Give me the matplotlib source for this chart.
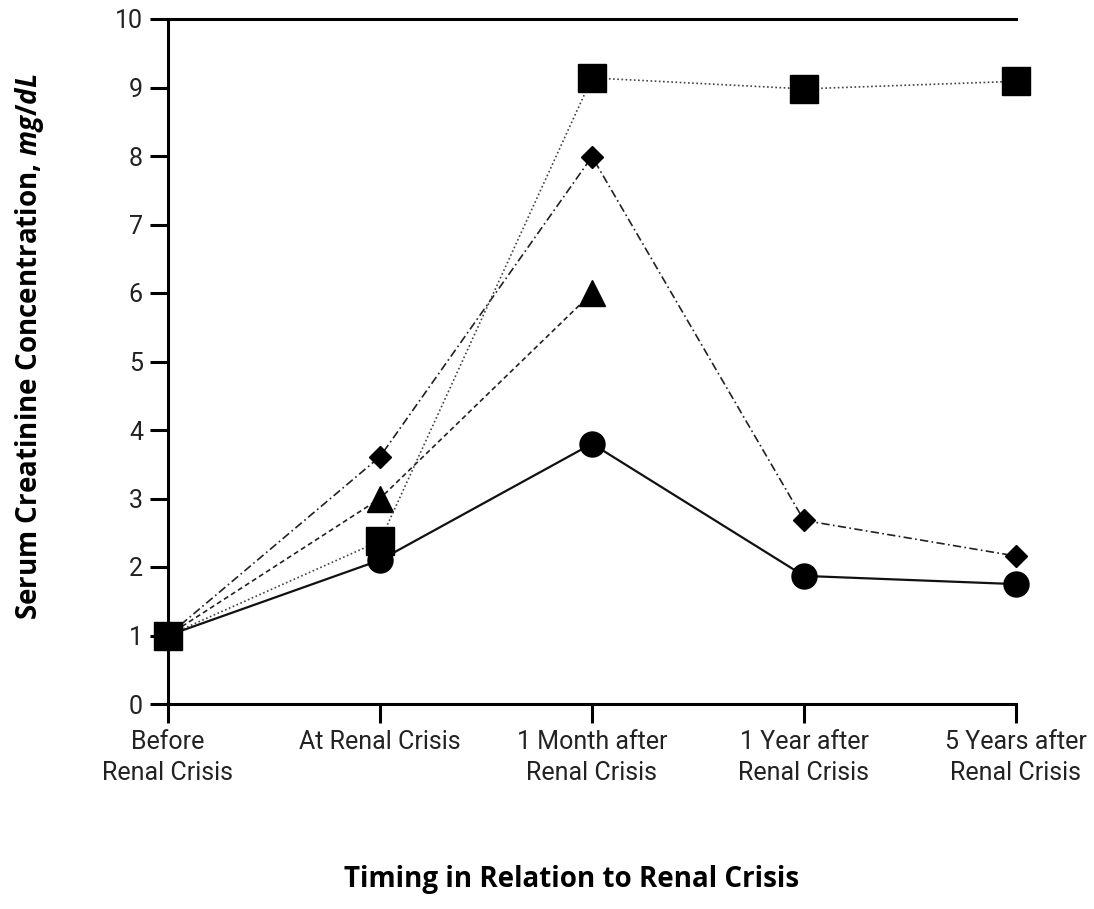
import numpy as np
import matplotlib
matplotlib.use('Agg')
import matplotlib.pyplot as plt
from matplotlib import font_manager

# fonts: a narrow one for ticks if we have it
names = {f.name for f in font_manager.fontManager.ttflist}
tickfont = 'Liberation Sans Narrow' if 'Liberation Sans Narrow' in names else 'Roboto'
plt.rcParams['mathtext.fontset'] = 'custom'
plt.rcParams['mathtext.it'] = 'Open Sans:bold:italic'
plt.rcParams['mathtext.rm'] = 'Open Sans:bold'

# data
timepoints = ['Before\nRenal Crisis', 'At Renal Crisis', '1 Month after\nRenal Crisis',
              '1 Year after\nRenal Crisis', '5 Years after\nRenal Crisis']
x = np.arange(len(timepoints))

circle_vals = [1.0, 2.1, 3.8, 1.87, 1.75]
square_vals = [1.0, 2.38, 9.14, 8.98, 9.09]
diamond_vals = [1.0, 3.61, 7.99, 2.68, 2.16]
triangle_vals = [1.0, 3.0, 6.0]

fig = plt.figure(figsize=(10.94, 9.09), dpi=100)
ax = fig.add_axes([168/1094, 1-704/909, (1016-168)/1094, (704-19)/909])

lc = '#222222'
ax.plot(x[:3], triangle_vals, color=lc, lw=1.2, ls=(0, (3, 2)),
        marker='^', ms=19, mfc='black', mec='black', clip_on=False, zorder=3)
ax.plot(x, diamond_vals, color=lc, lw=1.2, ls=(0, (5, 2, 1, 2)),
        marker='D', ms=11, mfc='black', mec='black', clip_on=False, zorder=3)
ax.plot(x, circle_vals, color='#111111', lw=1.6, ls='-',
        marker='o', ms=18, mfc='black', mec='black', clip_on=False, zorder=3)
ax.plot(x, square_vals, color='#444444', lw=1.2, ls=(0, (1, 1.5)),
        marker='s', ms=20, mfc='black', mec='black', clip_on=False, zorder=4)

ax.set_xlim(0, 4)
ax.set_ylim(0, 10)
ax.set_xticks(x)
ax.set_xticklabels(timepoints, family=tickfont, fontsize=18, linespacing=1.35, color='#222222')
ax.set_yticks(range(0, 11))
ax.set_yticklabels([str(i) for i in range(0, 11)], family=tickfont, fontsize=18, color='#222222')

for s in ['left', 'bottom', 'top']:
    ax.spines[s].set_linewidth(2.2)
ax.spines['right'].set_visible(False)
ax.tick_params(axis='y', direction='out', length=13, width=2.2, pad=5)
ax.tick_params(axis='x', direction='out', length=14, width=2.2, pad=5)

fig.text(30/1094, 1-347/909, r'Serum Creatinine Concentration, $mg/dL$',
         rotation=90, ha='center', va='center', fontsize=20, fontweight='bold',
         family='Open Sans')
fig.text(572/1094, 1-880/909, 'Timing in Relation to Renal Crisis',
         ha='center', va='center', fontsize=20, fontweight='bold', family='Open Sans')

fig.savefig('out.png', dpi=100)
